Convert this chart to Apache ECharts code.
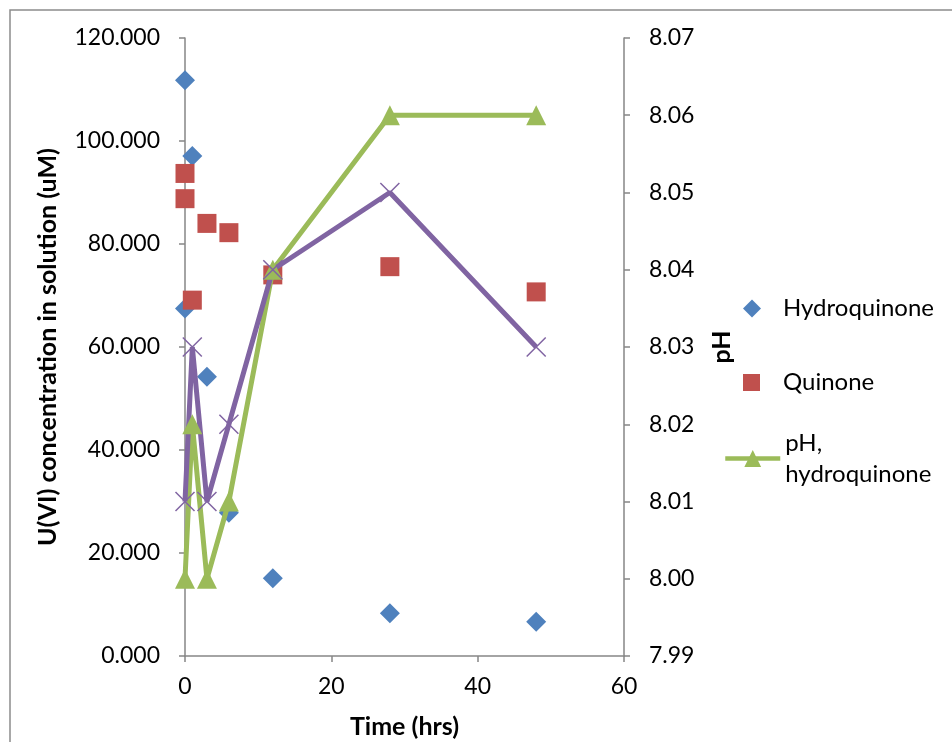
<!DOCTYPE html>
<html>
<head>
<meta charset="utf-8">
<script src="https://cdn.jsdelivr.net/npm/echarts@6/dist/echarts.min.js"></script>
<style>
  html, body { margin: 0; padding: 0; background: #ffffff; }
  #chart { width: 952px; height: 742px; }
</style>
</head>
<body>
<div id="chart"></div>
<script>
// Sampling times (hrs) and measured values
const hoursHydroquinone = [0, 0, 1, 3, 6, 12, 28, 48];
const uviHydroquinone   = [111.8, 67.5, 97.1, 54.2, 27.8, 15.1, 8.3, 6.65];

const hoursQuinone = [0, 0, 1, 3, 6, 12, 28, 48];
const uviQuinone   = [93.7, 88.8, 69.1, 84.0, 82.2, 74.0, 75.6, 70.7];

const hoursPH        = [0, 1, 3, 6, 12, 28, 48];
const phHydroquinone = [8.00, 8.02, 8.00, 8.01, 8.04, 8.06, 8.06];
const phQuinone      = [8.01, 8.03, 8.01, 8.02, 8.04, 8.05, 8.03];

const seriesNames = ['Hydroquinone', 'Quinone', 'pH, hydroquinone', 'pH, quinone'];

const pairs = (xs, ys) => xs.map((x, i) => [x, ys[i]]);

const FONT = 'Lato';
const AXIS_GREY = '#868686';
const TEXT = '#000000';

const crossSymbol = 'path://M0,0 L10,10 M10,0 L0,10';

const chart = echarts.init(document.getElementById('chart'), null, { renderer: 'canvas' });

const legendText = (pad) => ({
  fontFamily: FONT, fontSize: 24, color: TEXT, lineHeight: 31, padding: pad
});

chart.setOption({
  backgroundColor: '#ffffff',
  animation: false,
  textStyle: { fontFamily: FONT },
  graphic: [{
    type: 'rect',
    shape: { x: 10, y: 10, width: 1000, height: 1000 },
    style: { fill: 'none', stroke: '#8c8c8c', lineWidth: 1.5 },
    silent: true,
    z: -1
  }],
  grid: { left: 185, right: 328, top: 38, bottom: 86, containLabel: false, outerBoundsMode: 'none' },
  legend: [
    {
      data: [seriesNames[0]],
      orient: 'vertical', left: 743, top: 293, padding: 0,
      itemWidth: 18, itemHeight: 18,
      textStyle: legendText([0, 0, 0, 17])
    },
    {
      data: [seriesNames[1]],
      orient: 'vertical', left: 743, top: 367, padding: 0,
      itemWidth: 17, itemHeight: 17,
      textStyle: legendText([0, 0, 0, 18])
    },
    {
      data: [seriesNames[2]],
      orient: 'vertical', left: 723, top: 412, padding: 0,
      itemWidth: 55, itemHeight: 21,
      lineStyle: { width: 4.5 },
      formatter: () => 'pH,\nhydroquinone',
      textStyle: legendText([31, 0, 0, 0])
    }
  ],
  xAxis: {
    type: 'value',
    min: 0, max: 60, interval: 20,
    name: 'Time (hrs)',
    nameLocation: 'middle',
    nameGap: 58,
    nameTextStyle: { fontFamily: FONT, fontSize: 25, fontWeight: 'bold', color: TEXT },
    axisLine: { onZero: false, lineStyle: { color: AXIS_GREY, width: 1.5 } },
    axisTick: { show: true, inside: false, length: 6, lineStyle: { color: AXIS_GREY, width: 1.5 } },
    axisLabel: { fontFamily: FONT, fontSize: 23, color: TEXT, margin: 19 },
    splitLine: { show: false }
  },
  yAxis: [
    {
      type: 'value',
      position: 'left',
      min: 0, max: 120, interval: 20,
      name: 'U(VI) concentration in solution (uM)',
      nameLocation: 'middle',
      nameRotate: 90,
      nameGap: 125,
      nameTextStyle: { fontFamily: FONT, fontSize: 25, fontWeight: 'bold', color: TEXT },
      axisLine: { show: true, onZero: false, lineStyle: { color: AXIS_GREY, width: 1.5 } },
      axisTick: { show: true, inside: false, length: 6, lineStyle: { color: AXIS_GREY, width: 1.5 } },
      axisLabel: { fontFamily: FONT, fontSize: 23, color: TEXT, margin: 25, formatter: v => v.toFixed(3) },
      splitLine: { show: false }
    },
    {
      type: 'value',
      position: 'right',
      min: 7.99, max: 8.07, interval: 0.01,
      name: 'pH',
      nameLocation: 'middle',
      nameRotate: 90,
      nameGap: 85,
      nameTextStyle: { fontFamily: FONT, fontSize: 25, fontWeight: 'bold', color: TEXT },
      axisLine: { show: true, onZero: false, lineStyle: { color: AXIS_GREY, width: 1.5 } },
      axisTick: { show: true, inside: false, length: 6, lineStyle: { color: AXIS_GREY, width: 1.5 } },
      axisLabel: { fontFamily: FONT, fontSize: 23, color: TEXT, margin: 25, formatter: v => v.toFixed(2) },
      splitLine: { show: false }
    }
  ],
  series: [
    {
      name: seriesNames[0],
      type: 'scatter',
      yAxisIndex: 0,
      symbol: 'diamond',
      symbolSize: 20,
      itemStyle: { color: '#4F81BD', opacity: 1 },
      data: pairs(hoursHydroquinone, uviHydroquinone)
    },
    {
      name: seriesNames[1],
      type: 'scatter',
      yAxisIndex: 0,
      symbol: 'rect',
      symbolSize: 19,
      itemStyle: { color: '#C0504D', opacity: 1 },
      data: pairs(hoursQuinone, uviQuinone)
    },
    {
      name: seriesNames[2],
      type: 'line',
      yAxisIndex: 1,
      symbol: 'triangle',
      symbolSize: 20,
      showAllSymbol: true,
      itemStyle: { color: '#9BBB59', opacity: 1 },
      lineStyle: { color: '#9BBB59', width: 5 },
      data: pairs(hoursPH, phHydroquinone)
    },
    {
      name: seriesNames[3],
      type: 'line',
      yAxisIndex: 1,
      symbol: crossSymbol,
      symbolSize: 19,
      showAllSymbol: true,
      itemStyle: { color: '#8064A2', borderColor: '#8064A2', borderWidth: 1.5, opacity: 1 },
      lineStyle: { color: '#8064A2', width: 5 },
      data: pairs(hoursPH, phQuinone)
    }
  ]
});
</script>
</body>
</html>
